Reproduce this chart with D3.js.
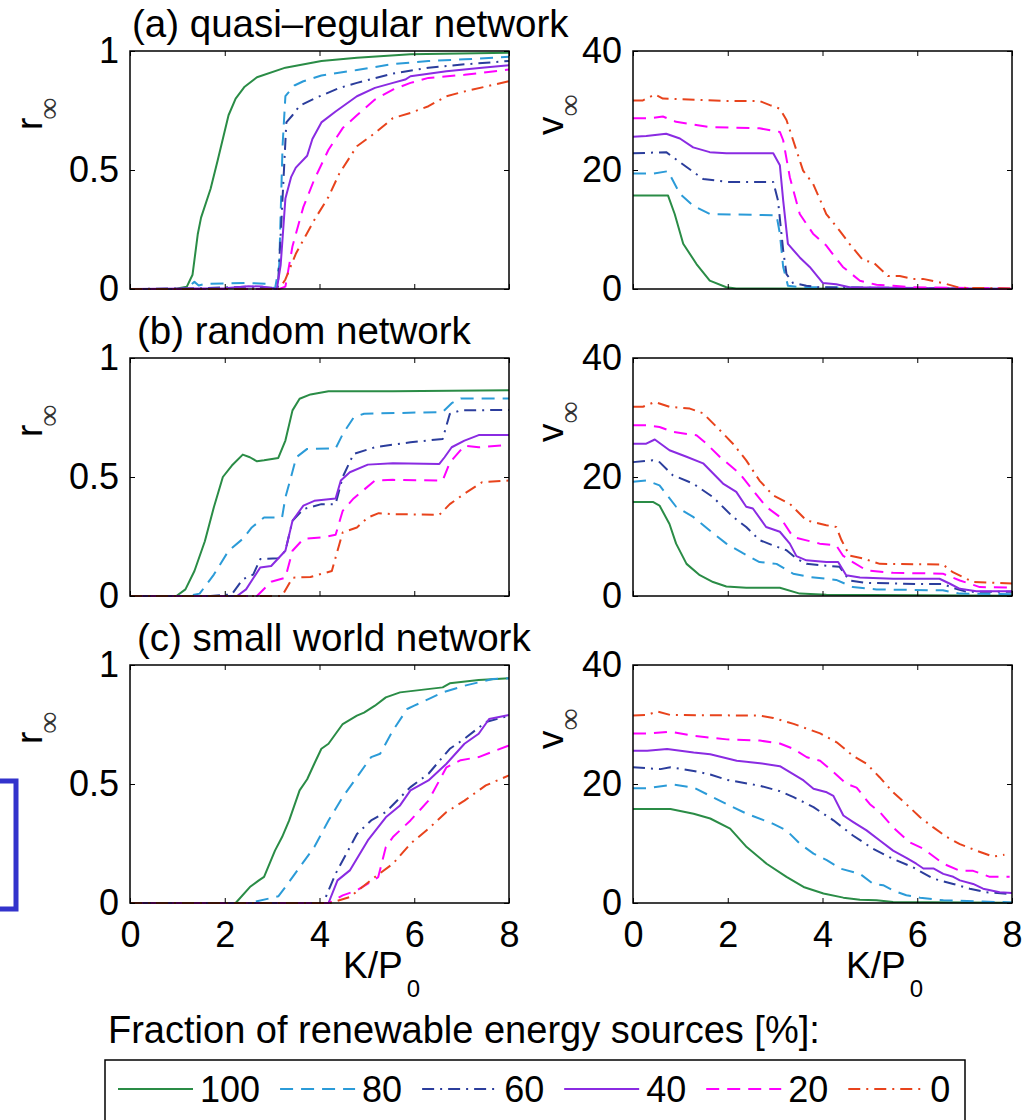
<!DOCTYPE html>
<html><head><meta charset="utf-8">
<script src="https://cdn.jsdelivr.net/npm/d3@7"></script>
<style>body{margin:0;background:#fff}svg{display:block}text{font-family:"Liberation Sans",Arial,Helvetica,sans-serif}</style>
</head><body><svg id="c" width="1035" height="1120"></svg>
<script>
// ---------- labels / styles ----------
const seriesNames = ["100","80","60","40","20","0"];
const seriesColors = ["#2a8c46","#2b9bd8","#2b3d9c","#8a2be2","#ff00ff","#e8431c"];
const seriesDash = [null,"13,8","12,6,2,6",null,"13,8","12,6,2,6"];
const xTicks = [0,2,4,6,8];
const rTicks = [0,0.5,1];
const vTicks = [0,20,40];
const panelTitles = ["(a) quasi\u2013regular network","(b) random network","(c) small world network"];
const legendTitle = "Fraction of renewable energy sources [%]:";

// ---------- data: [K/P0, value], series order 100,80,60,40,20,0 ----------
const quasiR = [
 [[0,0],[0.94,0],[1.2,0.01],[1.32,0.06],[1.43,0.23],[1.5,0.30],[1.7,0.42],[1.85,0.54],[2.08,0.73],[2.23,0.80],[2.42,0.85],[2.68,0.89],[3.28,0.93],[4.04,0.958],[4.79,0.972],[5.92,0.986],[8,0.993]],
 [[0,0],[1.1,0],[1.3,0.02],[1.36,0.03],[1.45,0.015],[1.6,0.022],[2.5,0.025],[2.9,0.022],[3.06,0],[3.15,0.1],[3.22,0.6],[3.28,0.81],[3.47,0.855],[3.66,0.873],[4.04,0.897],[4.79,0.92],[5.55,0.945],[6.3,0.958],[7.06,0.965],[8,0.976]],
 [[0,0],[1.5,0.003],[2.5,0.01],[3.0,0.005],[3.12,0.005],[3.2,0.3],[3.3,0.7],[3.43,0.73],[3.58,0.77],[3.89,0.80],[4.42,0.845],[4.79,0.866],[5.55,0.905],[6.3,0.93],[7.06,0.944],[8,0.958]],
 [[0,0],[2.0,0.003],[2.5,0.012],[2.8,0.01],[3.1,0.0],[3.18,0.1],[3.28,0.38],[3.4,0.47],[3.5,0.51],[3.74,0.56],[3.85,0.63],[4.04,0.70],[4.34,0.746],[4.79,0.81],[5.17,0.845],[5.55,0.866],[5.81,0.88],[5.92,0.894],[6.68,0.915],[7.43,0.93],[8,0.94]],
 [[0,0],[3.15,0],[3.28,0.01],[3.43,0.18],[3.66,0.345],[3.89,0.46],[4.19,0.585],[4.49,0.676],[4.79,0.73],[5.17,0.796],[5.55,0.838],[5.92,0.866],[6.3,0.887],[7.06,0.90],[8,0.922]],
 [[0,0],[3.15,0],[3.28,0.04],[3.5,0.148],[3.89,0.29],[4.19,0.387],[4.42,0.486],[4.79,0.60],[5.17,0.655],[5.55,0.718],[5.92,0.74],[6.3,0.768],[6.68,0.81],[7.06,0.83],[8,0.873]]
];
const quasiV = [
 [[0,15.7],[0.74,15.7],[0.88,12.6],[1.06,7.6],[1.34,4.2],[1.62,1.4],[1.97,0.3],[2.18,0.1],[8,0]],
 [[0,19.4],[0.42,19.4],[0.74,19.8],[0.99,16.0],[1.27,14.0],[1.62,12.6],[3.03,12.4],[3.1,9.3],[3.17,3.7],[3.27,0.56],[3.52,0.3],[8,0]],
 [[0,22.8],[0.7,23.0],[1.13,20.5],[1.48,18.5],[1.97,18.0],[2.96,18.0],[3.06,14.9],[3.17,6.5],[3.24,2.5],[3.38,1.0],[3.66,0.56],[3.94,0.3],[8,0]],
 [[0,25.6],[0.28,25.7],[0.7,26.1],[0.99,25.3],[1.27,23.8],[1.62,23.0],[1.97,22.8],[2.96,22.8],[3.1,20.8],[3.17,14.9],[3.27,7.6],[3.52,5.3],[3.73,3.7],[4.01,1.0],[4.29,0.8],[4.57,0.3],[8,0]],
 [[0,28.7],[0.35,28.7],[0.63,29.0],[0.91,28.1],[1.62,27.2],[2.67,27.0],[3.1,26.4],[3.17,25.0],[3.31,18.8],[3.52,12.6],[3.8,9.3],[4.08,7.3],[4.29,5.1],[4.43,3.7],[4.79,1.4],[5.14,0.7],[5.49,0.56],[5.84,0.3],[8,0.1]],
 [[0,31.7],[0.21,31.7],[0.46,32.7],[0.63,32.0],[1.97,31.6],[2.67,31.6],[2.89,30.9],[3.1,30.3],[3.24,28.4],[3.38,25.0],[3.59,19.9],[3.8,17.7],[4.08,12.6],[4.36,9.8],[4.57,7.6],[4.86,4.8],[5.07,4.5],[5.38,2.2],[5.63,2.2],[5.91,1.7],[6.12,1.7],[6.54,1.0],[6.9,0.2],[8,0.1]]
];
const randomR = [
 [[0,0],[0.98,0],[1.17,0.028],[1.36,0.105],[1.58,0.23],[1.77,0.373],[1.96,0.50],[2.15,0.548],[2.38,0.594],[2.53,0.583],[2.68,0.566],[2.83,0.57],[3.13,0.58],[3.28,0.653],[3.43,0.78],[3.58,0.829],[3.81,0.847],[4.19,0.86],[5.55,0.86],[8,0.864]],
 [[0,0],[1.24,0],[1.47,0.01],[1.77,0.09],[2.08,0.19],[2.38,0.24],[2.57,0.288],[2.83,0.33],[3.21,0.33],[3.28,0.414],[3.4,0.50],[3.51,0.583],[3.74,0.618],[4.34,0.62],[4.49,0.68],[4.72,0.75],[4.94,0.766],[6.6,0.773],[6.79,0.81],[6.98,0.83],[8,0.83]],
 [[0,0],[1.7,0],[2.15,0.007],[2.38,0.07],[2.6,0.09],[2.75,0.155],[3.13,0.159],[3.28,0.19],[3.43,0.316],[3.66,0.365],[4.04,0.386],[4.34,0.386],[4.49,0.50],[4.72,0.597],[5.17,0.625],[5.92,0.646],[6.6,0.66],[6.75,0.765],[6.98,0.78],[8,0.782]],
 [[0,0],[2.26,0],[2.45,0.028],[2.75,0.12],[2.98,0.126],[3.28,0.19],[3.43,0.316],[3.66,0.38],[3.89,0.40],[4.34,0.41],[4.45,0.485],[4.64,0.52],[5.02,0.552],[5.55,0.558],[6.53,0.555],[6.64,0.583],[6.79,0.625],[7.06,0.653],[7.36,0.676],[8,0.676]],
 [[0,0],[2.68,0],[2.98,0.06],[3.28,0.077],[3.43,0.19],[3.66,0.24],[4.04,0.246],[4.34,0.257],[4.49,0.358],[4.72,0.41],[5.17,0.485],[5.55,0.488],[6.6,0.485],[6.75,0.56],[7.06,0.632],[7.36,0.625],[8,0.635]],
 [[0,0],[3.21,0],[3.43,0.077],[3.81,0.08],[4.26,0.105],[4.38,0.19],[4.49,0.267],[4.79,0.288],[5.02,0.33],[5.25,0.348],[5.55,0.344],[6.53,0.341],[6.75,0.386],[7.06,0.43],[7.43,0.478],[8,0.485]]
];
const randomV = [
 [[0,15.8],[0.42,15.8],[0.56,15.2],[0.77,12.1],[0.91,8.8],[1.13,5.4],[1.41,3.5],[1.69,2.35],[1.97,1.6],[2.39,1.4],[3.1,1.4],[3.52,0.4],[4.08,0.2],[8,0.05]],
 [[0,19.2],[0.28,19.4],[0.56,18.6],[0.91,15.0],[1.27,13.3],[1.62,11.0],[1.97,8.8],[2.32,7.2],[2.67,5.7],[3.03,5.4],[3.38,3.75],[3.73,3.2],[4.29,2.7],[4.64,1.5],[5.14,1.1],[6.54,0.95],[6.9,0.4],[8,0.3]],
 [[0,22.5],[0.42,22.8],[0.56,22.5],[0.84,20.3],[1.27,18.9],[1.69,16.6],[2.11,13.3],[2.39,11.6],[2.67,9.4],[2.96,8.5],[3.24,7.7],[3.45,6.3],[3.66,5.4],[4.36,4.9],[4.57,2.6],[4.93,2.2],[6.19,2.0],[6.54,2.0],[6.82,1.2],[7.04,0.7],[8,0.7]],
 [[0,25.6],[0.28,25.6],[0.46,26.3],[0.77,24.5],[1.13,23.4],[1.48,22.3],[1.9,18.9],[2.18,17.5],[2.39,15.0],[2.53,14.7],[2.81,11.6],[3.1,10.8],[3.31,8.8],[3.45,6.7],[3.66,6.0],[4.08,5.7],[4.33,5.7],[4.5,3.5],[4.79,3.1],[5.49,2.9],[6.47,2.9],[6.68,2.1],[6.9,1.2],[7.25,0.8],[8,0.8]],
 [[0,28.7],[0.28,28.7],[0.56,28.4],[0.84,27.6],[1.34,27.0],[1.55,25.6],[1.83,23.4],[2.25,20.6],[2.53,17.8],[2.81,15.0],[3.1,13.3],[3.38,9.9],[3.94,8.8],[4.29,8.5],[4.43,6.8],[4.64,5.7],[4.93,4.3],[5.49,3.9],[6.54,3.75],[6.9,2.6],[7.32,1.5],[8,1.4]],
 [[0,31.8],[0.21,31.8],[0.46,32.6],[0.77,31.8],[1.2,31.5],[1.48,30.7],[1.83,27.9],[2.11,25.6],[2.39,22.8],[2.67,19.4],[2.96,16.9],[3.31,15.5],[3.66,12.7],[4.08,11.9],[4.29,11.6],[4.4,9.4],[4.57,6.8],[4.86,6.3],[5.21,5.4],[6.54,5.3],[6.75,4.0],[7.18,2.35],[8,2.1]]
];
const smallR = [
 [[0,0],[2.23,0],[2.53,0.067],[2.72,0.095],[2.83,0.11],[3.06,0.22],[3.21,0.277],[3.36,0.347],[3.58,0.473],[3.74,0.52],[3.89,0.585],[4.04,0.648],[4.19,0.669],[4.49,0.752],[4.79,0.787],[4.94,0.80],[5.17,0.829],[5.4,0.864],[5.7,0.885],[6.6,0.906],[6.75,0.923],[7.36,0.937],[8,0.944]],
 [[0,0],[2.53,0],[3.13,0.028],[3.28,0.067],[3.58,0.15],[3.89,0.235],[4.19,0.347],[4.49,0.445],[4.79,0.529],[5.09,0.613],[5.28,0.627],[5.55,0.725],[5.85,0.815],[6.0,0.829],[6.3,0.857],[6.6,0.885],[7.06,0.913],[7.66,0.941],[8,0.944]],
 [[0,0],[4.08,0],[4.34,0.123],[4.79,0.29],[5.09,0.347],[5.4,0.382],[5.92,0.487],[6.3,0.543],[6.75,0.648],[7.06,0.69],[7.51,0.76],[8,0.787]],
 [[0,0],[4.19,0],[4.38,0.095],[4.64,0.137],[5.02,0.263],[5.4,0.36],[5.7,0.41],[5.92,0.473],[6.3,0.515],[6.68,0.585],[7.06,0.669],[7.36,0.711],[7.58,0.773],[8,0.79]],
 [[0,0],[4.19,0],[4.49,0.032],[4.79,0.053],[5.24,0.109],[5.4,0.235],[5.55,0.277],[5.92,0.347],[6.3,0.43],[6.68,0.57],[6.98,0.60],[7.36,0.613],[8,0.662]],
 [[0,0],[4.23,0],[4.64,0.025],[5.17,0.109],[5.55,0.165],[5.92,0.249],[6.3,0.312],[6.68,0.382],[7.06,0.43],[7.51,0.494],[8,0.536]]
];
const smallV = [
 [[0,15.8],[0.79,15.8],[1.28,15.0],[1.63,14.2],[2.05,12.5],[2.4,9.4],[2.82,6.6],[3.24,4.4],[3.6,2.7],[4.02,1.6],[4.44,0.9],[4.79,0.56],[5.14,0.45],[5.49,0.17],[8,0.05]],
 [[0,19.3],[0.3,19.3],[0.86,19.9],[1.28,19.4],[1.63,18.0],[1.98,16.6],[2.4,15.0],[2.96,13.3],[3.24,12.2],[3.53,9.9],[3.81,8.3],[4.09,7.2],[4.37,5.8],[4.79,4.9],[5.07,3.2],[5.28,3.0],[5.49,2.1],[5.77,1.3],[6.06,0.9],[6.55,0.45],[8,0.1]],
 [[0,22.8],[0.58,22.5],[0.79,22.8],[1.28,22.2],[1.63,21.6],[1.98,20.7],[2.68,19.7],[3.1,18.8],[3.39,17.8],[3.81,16.1],[4.23,13.9],[4.65,11.3],[5.07,9.1],[5.49,7.4],[5.91,6.0],[6.34,4.1],[6.76,3.2],[7.11,2.4],[7.46,1.8],[8,1.5]],
 [[0,25.6],[0.3,25.6],[0.72,25.9],[1.28,25.3],[1.63,25.0],[2.19,23.9],[2.68,23.5],[3.1,23.0],[3.39,21.6],[3.6,20.6],[3.81,19.2],[4.09,18.6],[4.23,18.0],[4.44,14.7],[4.65,13.6],[4.93,12.2],[5.21,10.5],[5.49,8.8],[5.77,7.6],[5.98,6.6],[6.13,5.8],[6.34,5.8],[6.55,4.9],[6.76,4.4],[6.9,3.8],[7.18,3.2],[7.39,2.4],[7.74,1.8],[8,1.7]],
 [[0,28.5],[0.3,28.5],[0.79,28.8],[1.28,28.1],[1.98,27.5],[2.68,27.3],[3.1,26.8],[3.39,25.9],[3.67,24.5],[3.95,23.9],[4.23,22.0],[4.51,20.0],[4.72,19.4],[5.0,16.6],[5.21,15.3],[5.49,12.7],[5.84,10.2],[6.13,9.1],[6.55,6.6],[6.9,5.4],[7.18,5.4],[7.53,4.4],[7.95,4.4]],
 [[0,31.5],[0.3,31.6],[0.51,32.2],[0.79,31.6],[2.68,31.5],[2.96,31.1],[3.39,30.1],[3.95,28.5],[4.3,27.0],[4.65,24.7],[4.93,23.4],[5.21,21.1],[5.49,18.6],[5.77,16.6],[6.06,14.4],[6.34,12.7],[6.62,11.1],[6.9,9.9],[7.25,8.8],[7.6,7.8],[7.84,8.1]]
];

// ---------- layout ----------
const svg = d3.select("#c");
const colX = [130, 633], plotW = 379, rowY = [51, 358, 665], plotH = 238;
const x = d3.scaleLinear().domain([0, 8]).range([0, plotW]);
const yR = d3.scaleLinear().domain([0, 1]).range([plotH, 0]);
const yV = d3.scaleLinear().domain([0, 40]).range([plotH, 0]);

const panels = [
  {row:0,col:0,data:quasiR,y:yR,ticks:rTicks,lab:"r"},
  {row:0,col:1,data:quasiV,y:yV,ticks:vTicks,lab:"v"},
  {row:1,col:0,data:randomR,y:yR,ticks:rTicks,lab:"r"},
  {row:1,col:1,data:randomV,y:yV,ticks:vTicks,lab:"v"},
  {row:2,col:0,data:smallR,y:yR,ticks:rTicks,lab:"r"},
  {row:2,col:1,data:smallV,y:yV,ticks:vTicks,lab:"v"}
];

const defs = svg.append("defs");
defs.append("clipPath").attr("id","clip").append("rect")
  .attr("x",-1).attr("y",-2).attr("width",plotW+2).attr("height",plotH+4);

function styleAxis(g, size){
  g.select(".domain").remove();
  g.selectAll(".tick line").attr("stroke","#000").attr("stroke-width",1);
  g.selectAll("text").attr("font-size",size).attr("fill","#000")
   .attr("font-family","'Liberation Sans',Arial,sans-serif");
}

panels.forEach(p=>{
  const g = svg.append("g").attr("transform",`translate(${colX[p.col]},${rowY[p.row]})`);
  const line = d3.line().x(d=>x(d[0])).y(d=>p.y(d[1]));
  const lg = g.append("g").attr("clip-path","url(#clip)");
  p.data.forEach((s,i)=>{
    lg.append("path").datum(s).attr("d",line).attr("fill","none")
      .attr("stroke",seriesColors[i]).attr("stroke-width",2)
      .attr("stroke-dasharray",seriesDash[i]).attr("stroke-linejoin","round");
  });
  // axes
  const left = g.append("g").call(d3.axisLeft(p.y).tickValues(p.ticks).tickFormat(d3.format("~g"))
      .tickSizeInner(-5).tickSizeOuter(0).tickPadding(11));
  styleAxis(left,36);
  const right = g.append("g").attr("transform",`translate(${plotW},0)`)
      .call(d3.axisRight(p.y).tickValues(p.ticks).tickFormat("").tickSizeInner(-5).tickSizeOuter(0));
  styleAxis(right,36);
  const top = g.append("g").call(d3.axisTop(x).tickValues(xTicks).tickFormat("").tickSizeInner(-5).tickSizeOuter(0));
  styleAxis(top,36);
  const bottom = g.append("g").attr("transform",`translate(0,${plotH})`)
      .call(d3.axisBottom(x).tickValues(xTicks).tickFormat(p.row===2?d3.format("d"):"")
      .tickSizeInner(-5).tickSizeOuter(0).tickPadding(18));
  styleAxis(bottom,36);
  g.append("rect").attr("width",plotW).attr("height",plotH).attr("fill","none")
    .attr("stroke","#000").attr("stroke-width",1.5);

  // y label (rotated, with infinity subscript)
  const bx = p.col===0 ? -88 : -70;
  const by = p.col===0 ? 79 : 84;
  const t = g.append("text").attr("transform",`translate(${bx},${by}) rotate(-90)`)
    .attr("font-size",37).attr("fill","#000");
  t.append("tspan").text(p.lab);
  t.append("tspan").attr("dy",17).attr("dx",p.col===0?-2:0).attr("font-size",31)
    .attr("font-family","'Liberation Serif','DejaVu Serif',serif").attr("fill","#333").text("\u221E");

  if(p.row===2){
    const xl = g.append("text").attr("x",213).attr("y",plotH+75).attr("font-size",37).attr("fill","#000");
    xl.append("tspan").text("K/P");
    xl.append("tspan").attr("dx",4).attr("dy",19).attr("font-size",24).text("0");
  }
});

// panel titles
const titleX = [132,137,137];
panelTitles.forEach((tt,i)=>{
  svg.append("text").attr("x",titleX[i]).attr("y",rowY[i]-14).attr("font-size",38.5).attr("fill","#000").text(tt);
});

// blue bracket at left edge
svg.append("path").attr("d","M0,781 H16 V909 H0").attr("fill","none")
  .attr("stroke","#3333cc").attr("stroke-width",5);

// legend
svg.append("text").attr("x",108).attr("y",1043).attr("font-size",38).attr("fill","#000").text(legendTitle);
svg.append("rect").attr("x",105).attr("y",1060).attr("width",860).attr("height",64)
  .attr("fill","none").attr("stroke","#000").attr("stroke-width",1.5);
let cx = 118;
seriesNames.forEach((n,i)=>{
  svg.append("line").attr("x1",cx).attr("x2",cx+75).attr("y1",1089).attr("y2",1089)
    .attr("stroke",seriesColors[i]).attr("stroke-width",2).attr("stroke-dasharray",seriesDash[i]);
  const tx = svg.append("text").attr("x",cx+82).attr("y",1102).attr("font-size",36).attr("fill","#000").text(n);
  cx += 82 + tx.node().getComputedTextLength() + 20;
});
</script></body></html>
